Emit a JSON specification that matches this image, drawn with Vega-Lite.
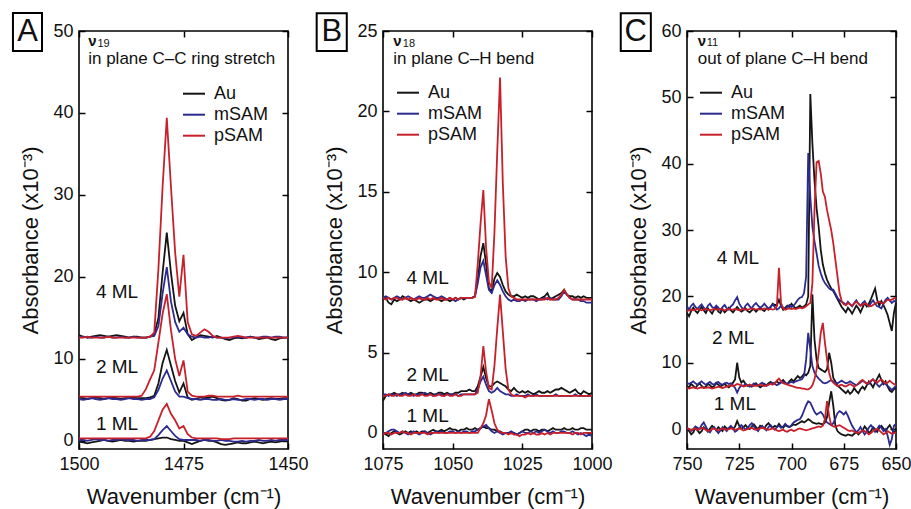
{
"$schema": "https://vega.github.io/schema/vega-lite/v6.json",
"padding": {"left": 11, "top": 11, "right": 4, "bottom": 4},
"bounds": "flush",
"spacing": 95,
"config": {
 "font": "Liberation Sans",
 "view": {"stroke": "black", "strokeWidth": 1.6},
 "axis": {"domain": false, "grid": false, "ticks": true, "tickSize": -6, "tickColor": "black", "tickWidth": 1.5, "format": "d", "labelFont": "Liberation Sans", "labelFontSize": 18, "labelColor": "#111", "labelPadding": 12, "labelFlush": false, "labelOverlap": false, "titleFont": "Liberation Sans", "titleFontSize": 22, "titleFontWeight": "normal", "titleColor": "#111"},
 "legend": {"labelFont": "Liberation Sans", "labelFontSize": 18, "labelColor": "#111", "symbolType": "stroke", "symbolStrokeWidth": 2, "symbolSize": 484, "labelOffset": 8, "rowPadding": -4.5, "padding": 0, "title": null}
},
"resolve": {"scale": {"color": "independent"}, "legend": {"color": "independent"}},
"datasets": {
"A": [
{"x":1500,"s":"Au","a":-0.1,"b":5.3,"c":12.9},{"x":1499,"s":"Au","a":-0.2,"b":5.2,"c":12.7},{"x":1498,"s":"Au","a":-0.3,"b":5.1,"c":12.6},{"x":1497,"s":"Au","a":-0.2,"b":5.2,"c":12.7},{"x":1496,"s":"Au","a":-0.1,"b":5.3,"c":12.8},{"x":1495,"s":"Au","a":0.0,"b":5.2,"c":12.9},{"x":1494,"s":"Au","a":0.1,"b":5.1,"c":12.8},{"x":1493,"s":"Au","a":0.0,"b":5.2,"c":12.7},{"x":1492,"s":"Au","a":-0.1,"b":5.3,"c":12.8},{"x":1491,"s":"Au","a":0.0,"b":5.2,"c":12.9},{"x":1490,"s":"Au","a":0.1,"b":5.1,"c":12.8},{"x":1489,"s":"Au","a":0.0,"b":5.2,"c":12.7},{"x":1488,"s":"Au","a":0.0,"b":5.2,"c":12.6},{"x":1487,"s":"Au","a":-0.1,"b":5.3,"c":12.7},{"x":1486,"s":"Au","a":0.0,"b":5.2,"c":12.7},{"x":1485,"s":"Au","a":0.0,"b":5.2,"c":12.6},{"x":1484,"s":"Au","a":0.0,"b":5.2,"c":12.6},{"x":1483,"s":"Au","a":0.1,"b":5.3,"c":12.7},{"x":1482,"s":"Au","a":0.2,"b":5.5,"c":13.0},{"x":1481,"s":"Au","a":0.3,"b":7.0,"c":15.0},{"x":1480,"s":"Au","a":0.4,"b":9.5,"c":20.5},{"x":1479,"s":"Au","a":0.4,"b":11.1,"c":25.4},{"x":1478,"s":"Au","a":0.2,"b":9.2,"c":20.5},{"x":1477,"s":"Au","a":0.1,"b":7.3,"c":16.5},{"x":1476,"s":"Au","a":0.0,"b":5.9,"c":14.6},{"x":1475,"s":"Au","a":0.0,"b":7.0,"c":15.6},{"x":1474,"s":"Au","a":-0.2,"b":5.3,"c":13.0},{"x":1473,"s":"Au","a":-0.4,"b":5.0,"c":12.3},{"x":1472,"s":"Au","a":-0.2,"b":5.1,"c":12.6},{"x":1471,"s":"Au","a":0.0,"b":5.3,"c":12.9},{"x":1470,"s":"Au","a":0.1,"b":5.2,"c":12.8},{"x":1469,"s":"Au","a":0.0,"b":5.3,"c":12.7},{"x":1468,"s":"Au","a":0.0,"b":5.4,"c":12.6},{"x":1467,"s":"Au","a":-0.2,"b":5.2,"c":12.8},{"x":1466,"s":"Au","a":-0.4,"b":5.0,"c":12.6},{"x":1465,"s":"Au","a":-0.5,"b":4.9,"c":12.4},{"x":1464,"s":"Au","a":-0.4,"b":5.0,"c":12.3},{"x":1463,"s":"Au","a":-0.3,"b":5.2,"c":12.5},{"x":1462,"s":"Au","a":-0.2,"b":5.1,"c":12.6},{"x":1461,"s":"Au","a":-0.3,"b":4.9,"c":12.5},{"x":1460,"s":"Au","a":-0.3,"b":4.9,"c":12.6},{"x":1459,"s":"Au","a":-0.2,"b":5.1,"c":12.7},{"x":1458,"s":"Au","a":-0.1,"b":5.2,"c":12.6},{"x":1457,"s":"Au","a":-0.2,"b":5.1,"c":12.4},{"x":1456,"s":"Au","a":-0.3,"b":5.0,"c":12.5},{"x":1455,"s":"Au","a":-0.2,"b":5.1,"c":12.6},{"x":1454,"s":"Au","a":-0.1,"b":5.2,"c":12.4},{"x":1453,"s":"Au","a":-0.2,"b":5.1,"c":12.3},{"x":1452,"s":"Au","a":-0.1,"b":5.1,"c":12.5},{"x":1451,"s":"Au","a":0.0,"b":5.2,"c":12.6},{"x":1450,"s":"Au","a":0.0,"b":5.2,"c":12.6},
{"x":1500,"s":"mSAM","a":0.1,"b":5.1,"c":12.6},{"x":1499,"s":"mSAM","a":0.1,"b":5.0,"c":12.7},{"x":1498,"s":"mSAM","a":0.0,"b":5.1,"c":12.6},{"x":1497,"s":"mSAM","a":0.1,"b":5.2,"c":12.6},{"x":1496,"s":"mSAM","a":0.2,"b":5.1,"c":12.7},{"x":1495,"s":"mSAM","a":0.1,"b":5.0,"c":12.6},{"x":1494,"s":"mSAM","a":0.1,"b":5.1,"c":12.6},{"x":1493,"s":"mSAM","a":0.0,"b":5.2,"c":12.7},{"x":1492,"s":"mSAM","a":0.1,"b":5.1,"c":12.6},{"x":1491,"s":"mSAM","a":0.1,"b":5.1,"c":12.6},{"x":1490,"s":"mSAM","a":0.2,"b":5.0,"c":12.7},{"x":1489,"s":"mSAM","a":0.1,"b":5.1,"c":12.6},{"x":1488,"s":"mSAM","a":0.1,"b":5.2,"c":12.6},{"x":1487,"s":"mSAM","a":0.1,"b":5.1,"c":12.7},{"x":1486,"s":"mSAM","a":0.0,"b":5.1,"c":12.6},{"x":1485,"s":"mSAM","a":0.1,"b":5.0,"c":12.6},{"x":1484,"s":"mSAM","a":0.1,"b":5.1,"c":12.6},{"x":1483,"s":"mSAM","a":0.1,"b":5.1,"c":12.7},{"x":1482,"s":"mSAM","a":0.2,"b":5.3,"c":12.8},{"x":1481,"s":"mSAM","a":0.7,"b":6.2,"c":14.0},{"x":1480,"s":"mSAM","a":1.3,"b":7.6,"c":18.0},{"x":1479,"s":"mSAM","a":1.8,"b":8.6,"c":21.2},{"x":1478,"s":"mSAM","a":1.2,"b":7.3,"c":17.0},{"x":1477,"s":"mSAM","a":0.6,"b":6.0,"c":14.5},{"x":1476,"s":"mSAM","a":0.2,"b":5.4,"c":13.3},{"x":1475,"s":"mSAM","a":0.1,"b":5.4,"c":13.8},{"x":1474,"s":"mSAM","a":0.1,"b":5.2,"c":13.0},{"x":1473,"s":"mSAM","a":0.1,"b":5.1,"c":12.7},{"x":1472,"s":"mSAM","a":0.1,"b":5.1,"c":12.6},{"x":1471,"s":"mSAM","a":0.0,"b":5.0,"c":12.7},{"x":1470,"s":"mSAM","a":0.1,"b":5.1,"c":12.6},{"x":1469,"s":"mSAM","a":0.1,"b":5.1,"c":12.6},{"x":1468,"s":"mSAM","a":0.0,"b":5.0,"c":12.7},{"x":1467,"s":"mSAM","a":0.0,"b":5.0,"c":12.6},{"x":1466,"s":"mSAM","a":0.1,"b":5.1,"c":12.6},{"x":1465,"s":"mSAM","a":0.0,"b":5.0,"c":12.5},{"x":1464,"s":"mSAM","a":0.0,"b":5.0,"c":12.6},{"x":1463,"s":"mSAM","a":-0.1,"b":5.1,"c":12.6},{"x":1462,"s":"mSAM","a":-0.1,"b":5.0,"c":12.7},{"x":1461,"s":"mSAM","a":0.0,"b":5.0,"c":12.6},{"x":1460,"s":"mSAM","a":-0.1,"b":5.1,"c":12.6},{"x":1459,"s":"mSAM","a":0.0,"b":5.1,"c":12.7},{"x":1458,"s":"mSAM","a":0.0,"b":5.0,"c":12.6},{"x":1457,"s":"mSAM","a":0.1,"b":5.1,"c":12.6},{"x":1456,"s":"mSAM","a":0.0,"b":5.1,"c":12.7},{"x":1455,"s":"mSAM","a":0.0,"b":5.0,"c":12.7},{"x":1454,"s":"mSAM","a":0.1,"b":5.1,"c":12.6},{"x":1453,"s":"mSAM","a":0.0,"b":5.1,"c":12.7},{"x":1452,"s":"mSAM","a":0.1,"b":5.0,"c":12.7},{"x":1451,"s":"mSAM","a":0.1,"b":5.1,"c":12.6},{"x":1450,"s":"mSAM","a":0.1,"b":5.1,"c":12.6},
{"x":1500,"s":"pSAM","a":0.3,"b":5.4,"c":12.6},{"x":1499,"s":"pSAM","a":0.3,"b":5.4,"c":12.6},{"x":1498,"s":"pSAM","a":0.3,"b":5.4,"c":12.7},{"x":1497,"s":"pSAM","a":0.3,"b":5.4,"c":12.6},{"x":1496,"s":"pSAM","a":0.3,"b":5.4,"c":12.6},{"x":1495,"s":"pSAM","a":0.3,"b":5.4,"c":12.6},{"x":1494,"s":"pSAM","a":0.3,"b":5.4,"c":12.6},{"x":1493,"s":"pSAM","a":0.3,"b":5.4,"c":12.7},{"x":1492,"s":"pSAM","a":0.3,"b":5.4,"c":12.6},{"x":1491,"s":"pSAM","a":0.3,"b":5.4,"c":12.6},{"x":1490,"s":"pSAM","a":0.3,"b":5.4,"c":12.6},{"x":1489,"s":"pSAM","a":0.3,"b":5.4,"c":12.6},{"x":1488,"s":"pSAM","a":0.3,"b":5.4,"c":12.6},{"x":1487,"s":"pSAM","a":0.3,"b":5.4,"c":12.6},{"x":1486,"s":"pSAM","a":0.3,"b":5.4,"c":12.6},{"x":1485,"s":"pSAM","a":0.3,"b":5.5,"c":12.6},{"x":1484,"s":"pSAM","a":0.3,"b":6.3,"c":12.6},{"x":1483,"s":"pSAM","a":0.5,"b":7.5,"c":12.7},{"x":1482,"s":"pSAM","a":1.2,"b":8.6,"c":13.2},{"x":1481,"s":"pSAM","a":2.5,"b":12.0,"c":21.0},{"x":1480,"s":"pSAM","a":3.8,"b":15.5,"c":31.0},{"x":1479,"s":"pSAM","a":4.5,"b":17.9,"c":39.4},{"x":1478,"s":"pSAM","a":3.3,"b":13.5,"c":31.0},{"x":1477,"s":"pSAM","a":2.5,"b":10.0,"c":23.0},{"x":1476,"s":"pSAM","a":1.5,"b":7.9,"c":17.6},{"x":1475,"s":"pSAM","a":1.8,"b":9.8,"c":22.7},{"x":1474,"s":"pSAM","a":0.8,"b":6.0,"c":14.5},{"x":1473,"s":"pSAM","a":0.4,"b":5.5,"c":13.0},{"x":1472,"s":"pSAM","a":0.3,"b":5.4,"c":12.8},{"x":1471,"s":"pSAM","a":0.3,"b":5.4,"c":13.2},{"x":1470,"s":"pSAM","a":0.3,"b":5.4,"c":13.6},{"x":1469,"s":"pSAM","a":0.3,"b":5.5,"c":13.3},{"x":1468,"s":"pSAM","a":0.3,"b":5.5,"c":12.8},{"x":1467,"s":"pSAM","a":0.3,"b":5.4,"c":12.6},{"x":1466,"s":"pSAM","a":0.2,"b":5.4,"c":12.6},{"x":1465,"s":"pSAM","a":0.2,"b":5.4,"c":12.6},{"x":1464,"s":"pSAM","a":0.2,"b":5.4,"c":12.6},{"x":1463,"s":"pSAM","a":0.3,"b":5.4,"c":12.7},{"x":1462,"s":"pSAM","a":0.3,"b":5.5,"c":12.8},{"x":1461,"s":"pSAM","a":0.3,"b":5.4,"c":12.7},{"x":1460,"s":"pSAM","a":0.3,"b":5.4,"c":12.6},{"x":1459,"s":"pSAM","a":0.3,"b":5.4,"c":12.6},{"x":1458,"s":"pSAM","a":0.3,"b":5.4,"c":12.6},{"x":1457,"s":"pSAM","a":0.3,"b":5.4,"c":12.6},{"x":1456,"s":"pSAM","a":0.3,"b":5.4,"c":12.6},{"x":1455,"s":"pSAM","a":0.3,"b":5.4,"c":12.6},{"x":1454,"s":"pSAM","a":0.3,"b":5.4,"c":12.6},{"x":1453,"s":"pSAM","a":0.3,"b":5.4,"c":12.6},{"x":1452,"s":"pSAM","a":0.3,"b":5.4,"c":12.6},{"x":1451,"s":"pSAM","a":0.3,"b":5.4,"c":12.6},{"x":1450,"s":"pSAM","a":0.3,"b":5.4,"c":12.6}
],
"B": [
{"x":1075,"s":"Au","a":0.0,"b":2.0,"c":8.3},{"x":1074,"s":"Au","a":-0.1,"b":2.3,"c":8.4},{"x":1073,"s":"Au","a":-0.2,"b":2.4,"c":8.1},{"x":1072,"s":"Au","a":0.0,"b":2.4,"c":8.0},{"x":1071,"s":"Au","a":0.1,"b":2.5,"c":8.3},{"x":1070,"s":"Au","a":0.0,"b":2.4,"c":8.2},{"x":1069,"s":"Au","a":-0.1,"b":2.4,"c":8.3},{"x":1068,"s":"Au","a":0.0,"b":2.5,"c":8.5},{"x":1067,"s":"Au","a":0.1,"b":2.4,"c":8.4},{"x":1066,"s":"Au","a":0.0,"b":2.4,"c":8.3},{"x":1065,"s":"Au","a":0.1,"b":2.5,"c":8.2},{"x":1064,"s":"Au","a":0.0,"b":2.4,"c":8.3},{"x":1063,"s":"Au","a":0.1,"b":2.4,"c":8.2},{"x":1062,"s":"Au","a":0.0,"b":2.5,"c":8.1},{"x":1061,"s":"Au","a":0.1,"b":2.5,"c":8.2},{"x":1060,"s":"Au","a":0.1,"b":2.4,"c":8.3},{"x":1059,"s":"Au","a":0.0,"b":2.4,"c":8.3},{"x":1058,"s":"Au","a":0.1,"b":2.5,"c":8.2},{"x":1057,"s":"Au","a":0.2,"b":2.4,"c":8.3},{"x":1056,"s":"Au","a":0.1,"b":2.4,"c":8.4},{"x":1055,"s":"Au","a":0.1,"b":2.5,"c":8.3},{"x":1054,"s":"Au","a":0.2,"b":2.5,"c":8.2},{"x":1053,"s":"Au","a":0.1,"b":2.4,"c":8.3},{"x":1052,"s":"Au","a":0.2,"b":2.5,"c":8.3},{"x":1051,"s":"Au","a":0.3,"b":2.4,"c":8.2},{"x":1050,"s":"Au","a":0.2,"b":2.4,"c":8.3},{"x":1049,"s":"Au","a":0.2,"b":2.5,"c":8.4},{"x":1048,"s":"Au","a":0.1,"b":2.5,"c":8.3},{"x":1047,"s":"Au","a":0.2,"b":2.6,"c":8.4},{"x":1046,"s":"Au","a":0.2,"b":2.6,"c":8.3},{"x":1045,"s":"Au","a":0.3,"b":2.6,"c":8.4},{"x":1044,"s":"Au","a":0.2,"b":2.7,"c":8.4},{"x":1043,"s":"Au","a":0.2,"b":2.6,"c":8.4},{"x":1042,"s":"Au","a":0.3,"b":2.6,"c":8.5},{"x":1041,"s":"Au","a":0.2,"b":2.9,"c":9.5},{"x":1040,"s":"Au","a":0.3,"b":3.5,"c":11.0},{"x":1039,"s":"Au","a":0.4,"b":4.1,"c":11.8},{"x":1038,"s":"Au","a":0.3,"b":3.4,"c":10.5},{"x":1037,"s":"Au","a":0.3,"b":2.9,"c":9.0},{"x":1036,"s":"Au","a":0.2,"b":2.9,"c":8.8},{"x":1035,"s":"Au","a":0.2,"b":3.1,"c":9.6},{"x":1034,"s":"Au","a":0.1,"b":3.2,"c":9.95},{"x":1033,"s":"Au","a":0.1,"b":3.1,"c":9.7},{"x":1032,"s":"Au","a":0.0,"b":3.0,"c":9.2},{"x":1031,"s":"Au","a":0.0,"b":2.9,"c":8.8},{"x":1030,"s":"Au","a":0.0,"b":2.7,"c":8.6},{"x":1029,"s":"Au","a":0.0,"b":2.6,"c":8.5},{"x":1028,"s":"Au","a":0.0,"b":2.8,"c":8.5},{"x":1027,"s":"Au","a":-0.1,"b":2.6,"c":8.6},{"x":1026,"s":"Au","a":0.0,"b":2.5,"c":8.5},{"x":1025,"s":"Au","a":0.1,"b":2.6,"c":8.4},{"x":1024,"s":"Au","a":0.2,"b":2.5,"c":8.5},{"x":1023,"s":"Au","a":0.2,"b":2.6,"c":8.4},{"x":1022,"s":"Au","a":0.1,"b":2.5,"c":8.5},{"x":1021,"s":"Au","a":0.2,"b":2.4,"c":8.5},{"x":1020,"s":"Au","a":0.2,"b":2.5,"c":8.4},{"x":1019,"s":"Au","a":0.1,"b":2.6,"c":8.3},{"x":1018,"s":"Au","a":0.2,"b":2.5,"c":8.4},{"x":1017,"s":"Au","a":0.2,"b":2.5,"c":8.5},{"x":1016,"s":"Au","a":0.1,"b":2.6,"c":8.7},{"x":1015,"s":"Au","a":0.2,"b":2.5,"c":8.3},{"x":1014,"s":"Au","a":0.3,"b":2.6,"c":8.4},{"x":1013,"s":"Au","a":0.2,"b":2.7,"c":8.5},{"x":1012,"s":"Au","a":0.2,"b":2.7,"c":8.6},{"x":1011,"s":"Au","a":0.2,"b":2.8,"c":8.7},{"x":1010,"s":"Au","a":0.3,"b":2.7,"c":8.9},{"x":1009,"s":"Au","a":0.2,"b":2.6,"c":8.6},{"x":1008,"s":"Au","a":0.2,"b":2.5,"c":8.5},{"x":1007,"s":"Au","a":0.3,"b":2.6,"c":8.5},{"x":1006,"s":"Au","a":0.2,"b":2.7,"c":8.4},{"x":1005,"s":"Au","a":0.2,"b":2.5,"c":8.5},{"x":1004,"s":"Au","a":0.3,"b":2.4,"c":8.4},{"x":1003,"s":"Au","a":0.3,"b":2.6,"c":8.5},{"x":1002,"s":"Au","a":0.2,"b":2.5,"c":8.4},{"x":1001,"s":"Au","a":0.2,"b":2.4,"c":8.4},{"x":1000,"s":"Au","a":0.2,"b":2.5,"c":8.4},
{"x":1075,"s":"mSAM","a":0.0,"b":2.4,"c":8.4},{"x":1074,"s":"mSAM","a":0.0,"b":2.4,"c":8.5},{"x":1073,"s":"mSAM","a":0.1,"b":2.3,"c":8.4},{"x":1072,"s":"mSAM","a":0.2,"b":2.4,"c":8.3},{"x":1071,"s":"mSAM","a":0.2,"b":2.4,"c":8.4},{"x":1070,"s":"mSAM","a":0.1,"b":2.3,"c":8.5},{"x":1069,"s":"mSAM","a":0.0,"b":2.4,"c":8.4},{"x":1068,"s":"mSAM","a":0.1,"b":2.4,"c":8.3},{"x":1067,"s":"mSAM","a":0.0,"b":2.5,"c":8.4},{"x":1066,"s":"mSAM","a":-0.1,"b":2.4,"c":8.5},{"x":1065,"s":"mSAM","a":0.0,"b":2.4,"c":8.4},{"x":1064,"s":"mSAM","a":0.1,"b":2.3,"c":8.3},{"x":1063,"s":"mSAM","a":0.0,"b":2.4,"c":8.4},{"x":1062,"s":"mSAM","a":-0.1,"b":2.4,"c":8.5},{"x":1061,"s":"mSAM","a":0.0,"b":2.4,"c":8.4},{"x":1060,"s":"mSAM","a":0.1,"b":2.5,"c":8.4},{"x":1059,"s":"mSAM","a":0.0,"b":2.4,"c":8.5},{"x":1058,"s":"mSAM","a":-0.1,"b":2.4,"c":8.6},{"x":1057,"s":"mSAM","a":0.0,"b":2.3,"c":8.5},{"x":1056,"s":"mSAM","a":0.1,"b":2.4,"c":8.4},{"x":1055,"s":"mSAM","a":0.0,"b":2.4,"c":8.4},{"x":1054,"s":"mSAM","a":0.1,"b":2.4,"c":8.5},{"x":1053,"s":"mSAM","a":0.0,"b":2.3,"c":8.4},{"x":1052,"s":"mSAM","a":0.0,"b":2.4,"c":8.3},{"x":1051,"s":"mSAM","a":0.1,"b":2.4,"c":8.4},{"x":1050,"s":"mSAM","a":0.1,"b":2.4,"c":8.3},{"x":1049,"s":"mSAM","a":0.0,"b":2.4,"c":8.2},{"x":1048,"s":"mSAM","a":0.1,"b":2.3,"c":8.3},{"x":1047,"s":"mSAM","a":0.0,"b":2.4,"c":8.4},{"x":1046,"s":"mSAM","a":0.1,"b":2.4,"c":8.4},{"x":1045,"s":"mSAM","a":0.1,"b":2.4,"c":8.4},{"x":1044,"s":"mSAM","a":0.0,"b":2.4,"c":8.4},{"x":1043,"s":"mSAM","a":0.1,"b":2.4,"c":8.4},{"x":1042,"s":"mSAM","a":0.1,"b":2.4,"c":8.5},{"x":1041,"s":"mSAM","a":0.2,"b":2.7,"c":9.3},{"x":1040,"s":"mSAM","a":0.3,"b":3.2,"c":10.3},{"x":1039,"s":"mSAM","a":0.4,"b":3.5,"c":10.7},{"x":1038,"s":"mSAM","a":0.5,"b":3.0,"c":9.8},{"x":1037,"s":"mSAM","a":0.3,"b":2.6,"c":8.9},{"x":1036,"s":"mSAM","a":0.1,"b":2.5,"c":8.7},{"x":1035,"s":"mSAM","a":0.0,"b":2.6,"c":9.2},{"x":1034,"s":"mSAM","a":0.1,"b":2.8,"c":9.5},{"x":1033,"s":"mSAM","a":0.0,"b":2.6,"c":9.2},{"x":1032,"s":"mSAM","a":-0.1,"b":2.5,"c":8.8},{"x":1031,"s":"mSAM","a":0.0,"b":2.4,"c":8.5},{"x":1030,"s":"mSAM","a":0.0,"b":2.4,"c":8.3},{"x":1029,"s":"mSAM","a":0.1,"b":2.3,"c":8.2},{"x":1028,"s":"mSAM","a":0.0,"b":2.3,"c":8.3},{"x":1027,"s":"mSAM","a":-0.1,"b":2.4,"c":8.2},{"x":1026,"s":"mSAM","a":0.0,"b":2.3,"c":8.2},{"x":1025,"s":"mSAM","a":0.1,"b":2.3,"c":8.3},{"x":1024,"s":"mSAM","a":0.0,"b":2.3,"c":8.2},{"x":1023,"s":"mSAM","a":0.0,"b":2.4,"c":8.3},{"x":1022,"s":"mSAM","a":0.1,"b":2.3,"c":8.3},{"x":1021,"s":"mSAM","a":0.0,"b":2.3,"c":8.3},{"x":1020,"s":"mSAM","a":0.1,"b":2.4,"c":8.2},{"x":1019,"s":"mSAM","a":0.0,"b":2.3,"c":8.3},{"x":1018,"s":"mSAM","a":0.1,"b":2.3,"c":8.3},{"x":1017,"s":"mSAM","a":0.2,"b":2.3,"c":8.4},{"x":1016,"s":"mSAM","a":0.1,"b":2.3,"c":8.3},{"x":1015,"s":"mSAM","a":0.0,"b":2.3,"c":8.4},{"x":1014,"s":"mSAM","a":0.1,"b":2.3,"c":8.3},{"x":1013,"s":"mSAM","a":0.0,"b":2.4,"c":8.3},{"x":1012,"s":"mSAM","a":0.0,"b":2.3,"c":8.3},{"x":1011,"s":"mSAM","a":0.1,"b":2.3,"c":8.5},{"x":1010,"s":"mSAM","a":0.1,"b":2.3,"c":8.8},{"x":1009,"s":"mSAM","a":0.0,"b":2.3,"c":8.6},{"x":1008,"s":"mSAM","a":0.0,"b":2.3,"c":8.4},{"x":1007,"s":"mSAM","a":0.1,"b":2.3,"c":8.3},{"x":1006,"s":"mSAM","a":0.0,"b":2.4,"c":8.3},{"x":1005,"s":"mSAM","a":-0.1,"b":2.3,"c":8.3},{"x":1004,"s":"mSAM","a":0.0,"b":2.3,"c":8.2},{"x":1003,"s":"mSAM","a":-0.1,"b":2.3,"c":8.2},{"x":1002,"s":"mSAM","a":-0.2,"b":2.3,"c":8.1},{"x":1001,"s":"mSAM","a":-0.1,"b":2.3,"c":8.1},{"x":1000,"s":"mSAM","a":-0.2,"b":2.3,"c":8.1},
{"x":1075,"s":"pSAM","a":-0.1,"b":2.3,"c":8.4},{"x":1074,"s":"pSAM","a":0.0,"b":2.3,"c":8.3},{"x":1073,"s":"pSAM","a":0.0,"b":2.4,"c":8.4},{"x":1072,"s":"pSAM","a":-0.1,"b":2.3,"c":8.3},{"x":1071,"s":"pSAM","a":0.0,"b":2.3,"c":8.4},{"x":1070,"s":"pSAM","a":0.0,"b":2.4,"c":8.4},{"x":1069,"s":"pSAM","a":0.0,"b":2.3,"c":8.3},{"x":1068,"s":"pSAM","a":0.1,"b":2.3,"c":8.3},{"x":1067,"s":"pSAM","a":0.0,"b":2.4,"c":8.4},{"x":1066,"s":"pSAM","a":0.0,"b":2.3,"c":8.3},{"x":1065,"s":"pSAM","a":-0.1,"b":2.3,"c":8.4},{"x":1064,"s":"pSAM","a":0.0,"b":2.4,"c":8.3},{"x":1063,"s":"pSAM","a":0.0,"b":2.3,"c":8.3},{"x":1062,"s":"pSAM","a":0.0,"b":2.3,"c":8.4},{"x":1061,"s":"pSAM","a":0.0,"b":2.4,"c":8.3},{"x":1060,"s":"pSAM","a":0.0,"b":2.3,"c":8.3},{"x":1059,"s":"pSAM","a":-0.1,"b":2.3,"c":8.4},{"x":1058,"s":"pSAM","a":0.0,"b":2.4,"c":8.3},{"x":1057,"s":"pSAM","a":0.0,"b":2.3,"c":8.4},{"x":1056,"s":"pSAM","a":0.0,"b":2.3,"c":8.3},{"x":1055,"s":"pSAM","a":0.0,"b":2.4,"c":8.3},{"x":1054,"s":"pSAM","a":0.0,"b":2.3,"c":8.4},{"x":1053,"s":"pSAM","a":0.0,"b":2.3,"c":8.3},{"x":1052,"s":"pSAM","a":0.0,"b":2.4,"c":8.3},{"x":1051,"s":"pSAM","a":0.0,"b":2.3,"c":8.4},{"x":1050,"s":"pSAM","a":0.0,"b":2.3,"c":8.3},{"x":1049,"s":"pSAM","a":0.0,"b":2.4,"c":8.4},{"x":1048,"s":"pSAM","a":0.0,"b":2.3,"c":8.3},{"x":1047,"s":"pSAM","a":0.0,"b":2.3,"c":8.4},{"x":1046,"s":"pSAM","a":0.0,"b":2.4,"c":8.4},{"x":1045,"s":"pSAM","a":0.0,"b":2.4,"c":8.4},{"x":1044,"s":"pSAM","a":0.0,"b":2.4,"c":8.4},{"x":1043,"s":"pSAM","a":0.0,"b":2.4,"c":8.4},{"x":1042,"s":"pSAM","a":0.0,"b":2.4,"c":8.45},{"x":1041,"s":"pSAM","a":0.0,"b":2.5,"c":10.5},{"x":1040,"s":"pSAM","a":0.3,"b":3.5,"c":13.0},{"x":1039,"s":"pSAM","a":0.6,"b":5.4,"c":15.1},{"x":1038,"s":"pSAM","a":1.1,"b":3.8,"c":11.5},{"x":1037,"s":"pSAM","a":2.1,"b":2.8,"c":9.4},{"x":1036,"s":"pSAM","a":1.4,"b":2.7,"c":9.0},{"x":1035,"s":"pSAM","a":0.6,"b":4.2,"c":12.5},{"x":1034,"s":"pSAM","a":0.2,"b":6.5,"c":17.5},{"x":1033,"s":"pSAM","a":0.05,"b":8.6,"c":22.1},{"x":1032,"s":"pSAM","a":0.0,"b":6.3,"c":15.5},{"x":1031,"s":"pSAM","a":0.0,"b":4.0,"c":11.0},{"x":1030,"s":"pSAM","a":-0.1,"b":2.7,"c":9.0},{"x":1029,"s":"pSAM","a":0.0,"b":2.4,"c":8.5},{"x":1028,"s":"pSAM","a":-0.1,"b":2.3,"c":8.4},{"x":1027,"s":"pSAM","a":-0.1,"b":2.3,"c":8.3},{"x":1026,"s":"pSAM","a":-0.2,"b":2.3,"c":8.3},{"x":1025,"s":"pSAM","a":-0.1,"b":2.3,"c":8.3},{"x":1024,"s":"pSAM","a":-0.1,"b":2.2,"c":8.3},{"x":1023,"s":"pSAM","a":0.0,"b":2.3,"c":8.3},{"x":1022,"s":"pSAM","a":-0.1,"b":2.3,"c":8.3},{"x":1021,"s":"pSAM","a":0.0,"b":2.3,"c":8.3},{"x":1020,"s":"pSAM","a":-0.1,"b":2.3,"c":8.3},{"x":1019,"s":"pSAM","a":-0.1,"b":2.3,"c":8.3},{"x":1018,"s":"pSAM","a":0.0,"b":2.3,"c":8.3},{"x":1017,"s":"pSAM","a":-0.1,"b":2.3,"c":8.3},{"x":1016,"s":"pSAM","a":0.0,"b":2.3,"c":8.4},{"x":1015,"s":"pSAM","a":-0.1,"b":2.3,"c":8.3},{"x":1014,"s":"pSAM","a":0.0,"b":2.3,"c":8.3},{"x":1013,"s":"pSAM","a":0.0,"b":2.3,"c":8.3},{"x":1012,"s":"pSAM","a":0.0,"b":2.3,"c":8.4},{"x":1011,"s":"pSAM","a":0.0,"b":2.3,"c":8.6},{"x":1010,"s":"pSAM","a":0.0,"b":2.3,"c":8.9},{"x":1009,"s":"pSAM","a":0.0,"b":2.3,"c":8.6},{"x":1008,"s":"pSAM","a":0.0,"b":2.3,"c":8.4},{"x":1007,"s":"pSAM","a":-0.1,"b":2.3,"c":8.3},{"x":1006,"s":"pSAM","a":0.0,"b":2.3,"c":8.3},{"x":1005,"s":"pSAM","a":0.0,"b":2.3,"c":8.3},{"x":1004,"s":"pSAM","a":-0.1,"b":2.3,"c":8.3},{"x":1003,"s":"pSAM","a":0.0,"b":2.3,"c":8.3},{"x":1002,"s":"pSAM","a":0.0,"b":2.3,"c":8.3},{"x":1001,"s":"pSAM","a":0.0,"b":2.3,"c":8.3},{"x":1000,"s":"pSAM","a":0.0,"b":2.3,"c":8.3}
],
"C": [
{"x":750,"s":"Au","a":0.0,"b":6.5,"c":17.5},{"x":749,"s":"Au","a":-0.3,"b":6.3,"c":17.0},{"x":748,"s":"Au","a":-0.8,"b":6.8,"c":17.8},{"x":747,"s":"Au","a":-0.5,"b":6.5,"c":18.3},{"x":746,"s":"Au","a":0.2,"b":6.2,"c":17.8},{"x":745,"s":"Au","a":-0.2,"b":6.6,"c":17.5},{"x":744,"s":"Au","a":-0.6,"b":6.9,"c":18.0},{"x":743,"s":"Au","a":-0.3,"b":6.5,"c":18.4},{"x":742,"s":"Au","a":0.3,"b":6.2,"c":17.9},{"x":741,"s":"Au","a":0.0,"b":6.4,"c":17.5},{"x":740,"s":"Au","a":-0.4,"b":6.8,"c":18.2},{"x":739,"s":"Au","a":0.1,"b":6.6,"c":17.8},{"x":738,"s":"Au","a":0.5,"b":6.3,"c":17.4},{"x":737,"s":"Au","a":0.2,"b":6.5,"c":18.0},{"x":736,"s":"Au","a":-0.2,"b":6.9,"c":18.3},{"x":735,"s":"Au","a":0.3,"b":6.7,"c":17.7},{"x":734,"s":"Au","a":0.0,"b":6.4,"c":17.5},{"x":733,"s":"Au","a":-0.3,"b":6.6,"c":18.1},{"x":732,"s":"Au","a":0.4,"b":6.8,"c":17.6},{"x":731,"s":"Au","a":0.1,"b":6.5,"c":17.9},{"x":730,"s":"Au","a":0.0,"b":6.3,"c":18.3},{"x":729,"s":"Au","a":0.3,"b":6.6,"c":17.9},{"x":728,"s":"Au","a":0.0,"b":7.0,"c":17.6},{"x":727,"s":"Au","a":0.4,"b":7.5,"c":18.0},{"x":726,"s":"Au","a":1.2,"b":10.0,"c":18.4},{"x":725,"s":"Au","a":0.5,"b":7.8,"c":18.0},{"x":724,"s":"Au","a":0.0,"b":7.0,"c":17.7},{"x":723,"s":"Au","a":0.3,"b":7.3,"c":17.9},{"x":722,"s":"Au","a":0.6,"b":6.8,"c":18.2},{"x":721,"s":"Au","a":0.2,"b":6.5,"c":17.8},{"x":720,"s":"Au","a":0.0,"b":6.7,"c":17.6},{"x":719,"s":"Au","a":0.4,"b":6.4,"c":17.9},{"x":718,"s":"Au","a":0.7,"b":6.6,"c":18.1},{"x":717,"s":"Au","a":0.3,"b":6.9,"c":17.7},{"x":716,"s":"Au","a":0.0,"b":6.6,"c":18.0},{"x":715,"s":"Au","a":0.5,"b":6.3,"c":18.3},{"x":714,"s":"Au","a":0.3,"b":6.5,"c":18.0},{"x":713,"s":"Au","a":0.1,"b":6.8,"c":17.8},{"x":712,"s":"Au","a":0.6,"b":6.6,"c":18.2},{"x":711,"s":"Au","a":0.9,"b":6.9,"c":18.0},{"x":710,"s":"Au","a":0.4,"b":7.1,"c":18.4},{"x":709,"s":"Au","a":0.2,"b":6.8,"c":18.9},{"x":708,"s":"Au","a":0.5,"b":7.0,"c":18.7},{"x":707,"s":"Au","a":0.3,"b":7.2,"c":18.7},{"x":706,"s":"Au","a":0.8,"b":6.9,"c":19.5},{"x":705,"s":"Au","a":0.4,"b":7.1,"c":18.6},{"x":704,"s":"Au","a":0.2,"b":7.4,"c":18.0},{"x":703,"s":"Au","a":0.6,"b":7.0,"c":18.3},{"x":702,"s":"Au","a":0.4,"b":6.8,"c":18.6},{"x":701,"s":"Au","a":0.3,"b":7.2,"c":18.4},{"x":700,"s":"Au","a":0.5,"b":7.5,"c":18.9},{"x":699,"s":"Au","a":0.7,"b":7.2,"c":18.5},{"x":698,"s":"Au","a":0.6,"b":7.6,"c":18.2},{"x":697,"s":"Au","a":0.8,"b":8.0,"c":18.4},{"x":696,"s":"Au","a":1.0,"b":7.7,"c":18.6},{"x":695,"s":"Au","a":1.2,"b":7.9,"c":18.3},{"x":694,"s":"Au","a":1.0,"b":8.3,"c":18.5},{"x":693,"s":"Au","a":1.2,"b":8.1,"c":18.8},{"x":692,"s":"Au","a":1.5,"b":8.5,"c":20.0},{"x":691,"s":"Au","a":1.3,"b":9.5,"c":50.5},{"x":690,"s":"Au","a":1.0,"b":20.3,"c":43.0},{"x":689,"s":"Au","a":0.9,"b":13.5,"c":37.5},{"x":688,"s":"Au","a":0.8,"b":10.5,"c":33.3},{"x":687,"s":"Au","a":0.9,"b":9.2,"c":30.5},{"x":686,"s":"Au","a":0.8,"b":9.0,"c":27.0},{"x":685,"s":"Au","a":0.7,"b":8.8,"c":24.8},{"x":684,"s":"Au","a":1.0,"b":8.6,"c":23.5},{"x":683,"s":"Au","a":1.8,"b":9.0,"c":22.5},{"x":682,"s":"Au","a":4.0,"b":11.5,"c":21.8},{"x":681,"s":"Au","a":5.7,"b":10.0,"c":21.2},{"x":680,"s":"Au","a":3.5,"b":7.7,"c":20.8},{"x":679,"s":"Au","a":0.5,"b":7.2,"c":20.2},{"x":678,"s":"Au","a":-0.3,"b":6.5,"c":19.6},{"x":677,"s":"Au","a":-0.6,"b":6.3,"c":19.0},{"x":676,"s":"Au","a":-0.8,"b":6.0,"c":18.4},{"x":675,"s":"Au","a":-0.9,"b":5.7,"c":18.0},{"x":674,"s":"Au","a":-1.0,"b":5.4,"c":17.6},{"x":673,"s":"Au","a":-0.8,"b":5.8,"c":18.3},{"x":672,"s":"Au","a":-0.9,"b":5.3,"c":17.9},{"x":671,"s":"Au","a":-1.0,"b":5.6,"c":17.4},{"x":670,"s":"Au","a":-0.7,"b":6.2,"c":18.0},{"x":669,"s":"Au","a":-0.4,"b":5.7,"c":18.6},{"x":668,"s":"Au","a":-0.8,"b":5.4,"c":18.2},{"x":667,"s":"Au","a":-0.5,"b":6.0,"c":17.6},{"x":666,"s":"Au","a":-0.2,"b":6.4,"c":18.3},{"x":665,"s":"Au","a":0.4,"b":6.0,"c":19.0},{"x":664,"s":"Au","a":0.0,"b":6.6,"c":18.5},{"x":663,"s":"Au","a":-0.6,"b":7.2,"c":18.9},{"x":662,"s":"Au","a":-0.3,"b":6.8,"c":19.6},{"x":661,"s":"Au","a":0.3,"b":6.3,"c":20.4},{"x":660,"s":"Au","a":0.0,"b":7.0,"c":21.2},{"x":659,"s":"Au","a":-0.4,"b":7.6,"c":19.5},{"x":658,"s":"Au","a":0.2,"b":8.2,"c":18.6},{"x":657,"s":"Au","a":0.5,"b":7.4,"c":19.3},{"x":656,"s":"Au","a":0.1,"b":6.8,"c":18.7},{"x":655,"s":"Au","a":-0.3,"b":7.2,"c":18.0},{"x":654,"s":"Au","a":0.2,"b":6.4,"c":17.2},{"x":653,"s":"Au","a":0.6,"b":5.8,"c":16.0},{"x":652,"s":"Au","a":0.0,"b":5.6,"c":14.8},{"x":651,"s":"Au","a":-0.5,"b":6.0,"c":17.5},{"x":650,"s":"Au","a":-0.2,"b":6.2,"c":19.0},
{"x":750,"s":"mSAM","a":0.2,"b":7.0,"c":18.5},{"x":749,"s":"mSAM","a":0.0,"b":6.8,"c":18.0},{"x":748,"s":"mSAM","a":-0.3,"b":7.0,"c":18.6},{"x":747,"s":"mSAM","a":0.0,"b":7.2,"c":18.9},{"x":746,"s":"mSAM","a":0.4,"b":6.9,"c":18.4},{"x":745,"s":"mSAM","a":0.2,"b":6.7,"c":18.1},{"x":744,"s":"mSAM","a":0.0,"b":7.0,"c":18.5},{"x":743,"s":"mSAM","a":0.6,"b":7.2,"c":18.8},{"x":742,"s":"mSAM","a":1.0,"b":6.9,"c":18.3},{"x":741,"s":"mSAM","a":0.4,"b":6.7,"c":18.0},{"x":740,"s":"mSAM","a":-0.2,"b":6.9,"c":18.6},{"x":739,"s":"mSAM","a":-0.5,"b":7.1,"c":18.9},{"x":738,"s":"mSAM","a":0.0,"b":6.8,"c":18.4},{"x":737,"s":"mSAM","a":0.3,"b":6.7,"c":18.2},{"x":736,"s":"mSAM","a":-0.2,"b":7.0,"c":18.6},{"x":735,"s":"mSAM","a":-0.6,"b":7.1,"c":18.3},{"x":734,"s":"mSAM","a":-0.2,"b":6.8,"c":17.9},{"x":733,"s":"mSAM","a":0.3,"b":6.7,"c":18.4},{"x":732,"s":"mSAM","a":0.0,"b":6.9,"c":18.7},{"x":731,"s":"mSAM","a":-0.3,"b":7.0,"c":18.2},{"x":730,"s":"mSAM","a":0.2,"b":6.8,"c":18.0},{"x":729,"s":"mSAM","a":0.5,"b":6.9,"c":18.5},{"x":728,"s":"mSAM","a":0.1,"b":6.6,"c":18.8},{"x":727,"s":"mSAM","a":-0.4,"b":6.2,"c":19.4},{"x":726,"s":"mSAM","a":-0.2,"b":5.5,"c":19.9},{"x":725,"s":"mSAM","a":0.2,"b":6.2,"c":18.9},{"x":724,"s":"mSAM","a":0.6,"b":6.6,"c":18.4},{"x":723,"s":"mSAM","a":0.3,"b":6.5,"c":18.0},{"x":722,"s":"mSAM","a":-0.1,"b":6.8,"c":18.6},{"x":721,"s":"mSAM","a":0.2,"b":6.6,"c":18.9},{"x":720,"s":"mSAM","a":0.6,"b":6.4,"c":18.5},{"x":719,"s":"mSAM","a":0.9,"b":6.6,"c":18.2},{"x":718,"s":"mSAM","a":0.4,"b":6.9,"c":18.7},{"x":717,"s":"mSAM","a":0.0,"b":6.7,"c":19.0},{"x":716,"s":"mSAM","a":-0.3,"b":6.5,"c":18.6},{"x":715,"s":"mSAM","a":0.2,"b":6.8,"c":18.3},{"x":714,"s":"mSAM","a":0.5,"b":7.0,"c":18.5},{"x":713,"s":"mSAM","a":0.1,"b":6.7,"c":18.9},{"x":712,"s":"mSAM","a":-0.2,"b":6.5,"c":18.5},{"x":711,"s":"mSAM","a":0.3,"b":6.7,"c":18.2},{"x":710,"s":"mSAM","a":0.6,"b":6.9,"c":18.4},{"x":709,"s":"mSAM","a":0.2,"b":7.0,"c":18.8},{"x":708,"s":"mSAM","a":-0.1,"b":6.8,"c":18.4},{"x":707,"s":"mSAM","a":0.3,"b":6.6,"c":18.0},{"x":706,"s":"mSAM","a":0.5,"b":6.8,"c":18.2},{"x":705,"s":"mSAM","a":0.2,"b":7.0,"c":18.6},{"x":704,"s":"mSAM","a":0.4,"b":7.1,"c":18.3},{"x":703,"s":"mSAM","a":0.8,"b":6.9,"c":18.1},{"x":702,"s":"mSAM","a":0.5,"b":6.8,"c":18.4},{"x":701,"s":"mSAM","a":0.3,"b":7.0,"c":18.7},{"x":700,"s":"mSAM","a":0.6,"b":7.1,"c":18.4},{"x":699,"s":"mSAM","a":1.0,"b":7.0,"c":18.6},{"x":698,"s":"mSAM","a":1.2,"b":7.2,"c":19.0},{"x":697,"s":"mSAM","a":1.4,"b":7.3,"c":19.5},{"x":696,"s":"mSAM","a":1.5,"b":7.4,"c":19.8},{"x":695,"s":"mSAM","a":2.0,"b":7.5,"c":19.9},{"x":694,"s":"mSAM","a":2.8,"b":8.0,"c":20.5},{"x":693,"s":"mSAM","a":3.6,"b":10.5,"c":23.0},{"x":692,"s":"mSAM","a":4.2,"b":14.5,"c":41.6},{"x":691,"s":"mSAM","a":4.0,"b":12.0,"c":35.0},{"x":690,"s":"mSAM","a":3.3,"b":9.5,"c":30.5},{"x":689,"s":"mSAM","a":2.6,"b":8.5,"c":28.3},{"x":688,"s":"mSAM","a":2.2,"b":8.0,"c":26.5},{"x":687,"s":"mSAM","a":2.4,"b":7.6,"c":24.6},{"x":686,"s":"mSAM","a":2.6,"b":7.3,"c":23.5},{"x":685,"s":"mSAM","a":2.2,"b":7.0,"c":22.6},{"x":684,"s":"mSAM","a":1.5,"b":6.9,"c":22.0},{"x":683,"s":"mSAM","a":1.0,"b":7.0,"c":21.6},{"x":682,"s":"mSAM","a":0.8,"b":7.2,"c":21.2},{"x":681,"s":"mSAM","a":0.6,"b":7.4,"c":21.0},{"x":680,"s":"mSAM","a":0.9,"b":7.2,"c":21.0},{"x":679,"s":"mSAM","a":1.6,"b":7.0,"c":20.4},{"x":678,"s":"mSAM","a":2.4,"b":6.9,"c":19.8},{"x":677,"s":"mSAM","a":2.7,"b":7.1,"c":19.4},{"x":676,"s":"mSAM","a":2.5,"b":7.3,"c":19.2},{"x":675,"s":"mSAM","a":2.2,"b":7.1,"c":19.0},{"x":674,"s":"mSAM","a":2.6,"b":6.9,"c":18.7},{"x":673,"s":"mSAM","a":2.0,"b":7.0,"c":19.2},{"x":672,"s":"mSAM","a":1.2,"b":7.2,"c":18.8},{"x":671,"s":"mSAM","a":0.5,"b":7.0,"c":18.5},{"x":670,"s":"mSAM","a":0.0,"b":6.8,"c":19.0},{"x":669,"s":"mSAM","a":-0.5,"b":6.6,"c":19.4},{"x":668,"s":"mSAM","a":-0.2,"b":6.8,"c":18.9},{"x":667,"s":"mSAM","a":0.3,"b":7.0,"c":18.6},{"x":666,"s":"mSAM","a":-0.3,"b":7.3,"c":19.0},{"x":665,"s":"mSAM","a":-0.8,"b":7.1,"c":19.3},{"x":664,"s":"mSAM","a":-0.4,"b":6.9,"c":18.8},{"x":663,"s":"mSAM","a":0.2,"b":6.8,"c":18.5},{"x":662,"s":"mSAM","a":0.6,"b":7.2,"c":19.0},{"x":661,"s":"mSAM","a":0.2,"b":7.5,"c":19.4},{"x":660,"s":"mSAM","a":-0.4,"b":7.1,"c":18.9},{"x":659,"s":"mSAM","a":0.0,"b":6.7,"c":18.5},{"x":658,"s":"mSAM","a":0.5,"b":6.4,"c":18.4},{"x":657,"s":"mSAM","a":0.2,"b":6.7,"c":18.2},{"x":656,"s":"mSAM","a":-0.3,"b":7.0,"c":18.9},{"x":655,"s":"mSAM","a":0.0,"b":6.8,"c":19.5},{"x":654,"s":"mSAM","a":-1.0,"b":6.5,"c":19.8},{"x":653,"s":"mSAM","a":-2.4,"b":6.2,"c":19.4},{"x":652,"s":"mSAM","a":-1.5,"b":5.9,"c":19.0},{"x":651,"s":"mSAM","a":0.5,"b":6.2,"c":19.3},{"x":650,"s":"mSAM","a":0.8,"b":6.5,"c":19.2},
{"x":750,"s":"pSAM","a":0.1,"b":6.2,"c":17.8},{"x":749,"s":"pSAM","a":0.0,"b":6.1,"c":17.9},{"x":748,"s":"pSAM","a":-0.2,"b":6.2,"c":18.0},{"x":747,"s":"pSAM","a":0.0,"b":6.3,"c":17.9},{"x":746,"s":"pSAM","a":0.1,"b":6.2,"c":18.0},{"x":745,"s":"pSAM","a":-0.1,"b":6.1,"c":18.1},{"x":744,"s":"pSAM","a":0.0,"b":6.2,"c":18.0},{"x":743,"s":"pSAM","a":0.2,"b":6.3,"c":17.9},{"x":742,"s":"pSAM","a":0.1,"b":6.2,"c":18.0},{"x":741,"s":"pSAM","a":-0.1,"b":6.2,"c":18.1},{"x":740,"s":"pSAM","a":-0.3,"b":6.3,"c":18.0},{"x":739,"s":"pSAM","a":-0.2,"b":6.2,"c":17.9},{"x":738,"s":"pSAM","a":0.0,"b":6.1,"c":18.0},{"x":737,"s":"pSAM","a":0.1,"b":6.2,"c":18.1},{"x":736,"s":"pSAM","a":-0.1,"b":6.3,"c":18.0},{"x":735,"s":"pSAM","a":-0.2,"b":6.4,"c":18.0},{"x":734,"s":"pSAM","a":0.0,"b":6.3,"c":18.1},{"x":733,"s":"pSAM","a":0.1,"b":6.2,"c":18.0},{"x":732,"s":"pSAM","a":0.0,"b":6.3,"c":17.9},{"x":731,"s":"pSAM","a":-0.1,"b":6.4,"c":18.0},{"x":730,"s":"pSAM","a":0.0,"b":6.5,"c":18.1},{"x":729,"s":"pSAM","a":0.1,"b":6.6,"c":18.0},{"x":728,"s":"pSAM","a":0.0,"b":6.5,"c":18.0},{"x":727,"s":"pSAM","a":-0.1,"b":6.6,"c":18.1},{"x":726,"s":"pSAM","a":0.0,"b":6.8,"c":18.0},{"x":725,"s":"pSAM","a":0.1,"b":6.7,"c":17.9},{"x":724,"s":"pSAM","a":0.0,"b":6.6,"c":18.0},{"x":723,"s":"pSAM","a":-0.2,"b":6.4,"c":18.1},{"x":722,"s":"pSAM","a":-0.1,"b":6.5,"c":18.0},{"x":721,"s":"pSAM","a":0.0,"b":6.6,"c":18.0},{"x":720,"s":"pSAM","a":0.1,"b":6.7,"c":18.1},{"x":719,"s":"pSAM","a":0.2,"b":6.6,"c":18.2},{"x":718,"s":"pSAM","a":0.0,"b":6.5,"c":18.1},{"x":717,"s":"pSAM","a":-0.1,"b":6.5,"c":18.0},{"x":716,"s":"pSAM","a":0.0,"b":6.6,"c":18.1},{"x":715,"s":"pSAM","a":0.1,"b":6.7,"c":18.0},{"x":714,"s":"pSAM","a":0.2,"b":6.6,"c":18.1},{"x":713,"s":"pSAM","a":0.1,"b":6.5,"c":18.2},{"x":712,"s":"pSAM","a":0.0,"b":6.6,"c":18.1},{"x":711,"s":"pSAM","a":-0.1,"b":6.7,"c":18.0},{"x":710,"s":"pSAM","a":0.0,"b":6.8,"c":18.1},{"x":709,"s":"pSAM","a":0.1,"b":6.7,"c":18.0},{"x":708,"s":"pSAM","a":0.0,"b":6.9,"c":18.1},{"x":707,"s":"pSAM","a":-0.2,"b":7.3,"c":18.5},{"x":706,"s":"pSAM","a":-0.3,"b":7.6,"c":24.3},{"x":705,"s":"pSAM","a":-0.2,"b":7.2,"c":19.0},{"x":704,"s":"pSAM","a":-0.1,"b":6.9,"c":18.2},{"x":703,"s":"pSAM","a":-0.3,"b":6.8,"c":18.0},{"x":702,"s":"pSAM","a":-0.4,"b":6.7,"c":18.1},{"x":701,"s":"pSAM","a":-0.2,"b":6.6,"c":18.2},{"x":700,"s":"pSAM","a":-0.1,"b":6.5,"c":18.1},{"x":699,"s":"pSAM","a":-0.3,"b":6.4,"c":18.2},{"x":698,"s":"pSAM","a":-0.2,"b":6.3,"c":18.1},{"x":697,"s":"pSAM","a":0.0,"b":6.2,"c":18.2},{"x":696,"s":"pSAM","a":0.1,"b":6.2,"c":18.3},{"x":695,"s":"pSAM","a":0.0,"b":6.1,"c":18.2},{"x":694,"s":"pSAM","a":-0.1,"b":6.1,"c":18.3},{"x":693,"s":"pSAM","a":-0.2,"b":6.0,"c":18.5},{"x":692,"s":"pSAM","a":-0.1,"b":6.0,"c":18.8},{"x":691,"s":"pSAM","a":0.0,"b":6.2,"c":19.0},{"x":690,"s":"pSAM","a":0.1,"b":6.6,"c":22.0},{"x":689,"s":"pSAM","a":0.2,"b":7.5,"c":33.0},{"x":688,"s":"pSAM","a":0.3,"b":9.0,"c":40.2},{"x":687,"s":"pSAM","a":0.4,"b":11.5,"c":40.4},{"x":686,"s":"pSAM","a":0.3,"b":14.5,"c":38.5},{"x":685,"s":"pSAM","a":0.5,"b":16.0,"c":35.8},{"x":684,"s":"pSAM","a":1.5,"b":13.0,"c":35.0},{"x":683,"s":"pSAM","a":4.2,"b":10.5,"c":33.0},{"x":682,"s":"pSAM","a":2.0,"b":8.5,"c":31.5},{"x":681,"s":"pSAM","a":0.6,"b":7.4,"c":30.0},{"x":680,"s":"pSAM","a":0.4,"b":7.0,"c":28.0},{"x":679,"s":"pSAM","a":0.3,"b":6.7,"c":25.5},{"x":678,"s":"pSAM","a":0.5,"b":6.5,"c":23.0},{"x":677,"s":"pSAM","a":0.6,"b":6.6,"c":20.5},{"x":676,"s":"pSAM","a":0.4,"b":6.7,"c":19.3},{"x":675,"s":"pSAM","a":0.2,"b":6.5,"c":18.8},{"x":674,"s":"pSAM","a":0.0,"b":6.4,"c":18.7},{"x":673,"s":"pSAM","a":-0.2,"b":6.6,"c":19.0},{"x":672,"s":"pSAM","a":-0.3,"b":6.8,"c":18.8},{"x":671,"s":"pSAM","a":-0.2,"b":6.6,"c":18.6},{"x":670,"s":"pSAM","a":-0.4,"b":6.4,"c":18.9},{"x":669,"s":"pSAM","a":-0.5,"b":6.6,"c":19.2},{"x":668,"s":"pSAM","a":-0.6,"b":6.9,"c":18.9},{"x":667,"s":"pSAM","a":-0.4,"b":7.2,"c":18.6},{"x":666,"s":"pSAM","a":-0.2,"b":7.4,"c":18.7},{"x":665,"s":"pSAM","a":-0.3,"b":7.1,"c":19.0},{"x":664,"s":"pSAM","a":-0.5,"b":6.8,"c":18.8},{"x":663,"s":"pSAM","a":-0.8,"b":7.0,"c":18.6},{"x":662,"s":"pSAM","a":-0.6,"b":7.3,"c":18.5},{"x":661,"s":"pSAM","a":-0.3,"b":7.5,"c":18.7},{"x":660,"s":"pSAM","a":-0.1,"b":7.2,"c":18.9},{"x":659,"s":"pSAM","a":0.0,"b":7.0,"c":19.1},{"x":658,"s":"pSAM","a":-0.2,"b":7.3,"c":19.2},{"x":657,"s":"pSAM","a":-0.5,"b":7.5,"c":19.0},{"x":656,"s":"pSAM","a":-0.8,"b":7.2,"c":18.9},{"x":655,"s":"pSAM","a":-0.6,"b":6.9,"c":19.2},{"x":654,"s":"pSAM","a":-0.3,"b":7.0,"c":19.5},{"x":653,"s":"pSAM","a":-0.5,"b":7.3,"c":19.4},{"x":652,"s":"pSAM","a":-0.7,"b":7.0,"c":19.5},{"x":651,"s":"pSAM","a":-0.6,"b":6.8,"c":19.7},{"x":650,"s":"pSAM","a":-0.5,"b":6.6,"c":19.8}
]
},
"hconcat": [
{
 "width": 209, "height": 418,
 "resolve": {"axis": {"x": "independent", "y": "independent"}},
 "layer": [
  {
   "data": {"name": "A"},
   "transform": [{"fold": ["a", "b", "c"], "as": ["ml", "y"]}],
   "mark": {"type": "line", "strokeWidth": 1.8},
   "encoding": {
    "x": {"field": "x", "type": "quantitative", "scale": {"domain": [1450, 1500], "reverse": true, "nice": false, "zero": false}, "axis": {"orient": "bottom", "values": [1500, 1475, 1450], "title": "Wavenumber (cm⁻¹)", "titlePadding": 13}},
    "y": {"field": "y", "type": "quantitative", "scale": {"domain": [-1, 50], "nice": false, "zero": false}, "axis": {"orient": "left", "values": [0, 10, 20, 30, 40, 50], "title": "Absorbance (x10⁻³)", "titlePadding": 10}},
    "color": {"field": "s", "type": "nominal", "scale": {"domain": ["Au", "mSAM", "pSAM"], "range": ["#141414", "#2b2a8e", "#c8202a"]}, "legend": {"orient": "none", "legendX": 103, "legendY": 50.7}},
    "detail": {"field": "ml"}
   }
  },
  {
   "data": {"values": [{"t": "4 ML", "x": 1490.9, "y": 18.1}, {"t": "2 ML", "x": 1490.9, "y": 9.0}, {"t": "1 ML", "x": 1490.9, "y": 2.0}]},
   "mark": {"type": "text", "fontSize": 19, "align": "center", "baseline": "middle", "color": "#111"},
   "encoding": {
    "x": {"field": "x", "type": "quantitative", "scale": {"domain": [1450, 1500], "reverse": true, "nice": false, "zero": false}, "axis": {"orient": "top", "values": [1500, 1475, 1450], "labels": false, "title": null}},
    "y": {"field": "y", "type": "quantitative", "scale": {"domain": [-1, 50], "nice": false, "zero": false}, "axis": {"orient": "right", "values": [0, 10, 20, 30, 40, 50], "labels": false, "title": null}},
    "text": {"field": "t"}
   }
  },
  {
   "data": {"values": [{"t": "in plane C–C ring stretch", "x": 1497.8, "y": 46.58}]},
   "mark": {"type": "text", "fontSize": 17, "align": "left", "baseline": "middle", "color": "#111"},
   "encoding": {
    "x": {"field": "x", "type": "quantitative", "scale": {"domain": [1450, 1500], "reverse": true, "nice": false, "zero": false}, "axis": null},
    "y": {"field": "y", "type": "quantitative", "scale": {"domain": [-1, 50], "nice": false, "zero": false}, "axis": null},
    "text": {"field": "t"}
   }
  },
  {
   "data": {"values": [{"t": "ν", "x": 1497.8, "y": 48.72}]},
   "mark": {"type": "text", "fontSize": 15, "fontWeight": "bold", "align": "left", "baseline": "middle", "color": "#111"},
   "encoding": {
    "x": {"field": "x", "type": "quantitative", "scale": {"domain": [1450, 1500], "reverse": true, "nice": false, "zero": false}, "axis": null},
    "y": {"field": "y", "type": "quantitative", "scale": {"domain": [-1, 50], "nice": false, "zero": false}, "axis": null},
    "text": {"field": "t"}
   }
  },
  {
   "data": {"values": [{"t": "19", "x": 1495.6, "y": 48.47}]},
   "mark": {"type": "text", "fontSize": 11, "align": "left", "baseline": "middle", "color": "#111"},
   "encoding": {
    "x": {"field": "x", "type": "quantitative", "scale": {"domain": [1450, 1500], "reverse": true, "nice": false, "zero": false}, "axis": null},
    "y": {"field": "y", "type": "quantitative", "scale": {"domain": [-1, 50], "nice": false, "zero": false}, "axis": null},
    "text": {"field": "t"}
   }
  },
  {
   "data": {"values": [{"p": "A"}]},
   "mark": {"type": "rect", "filled": false, "stroke": "black", "strokeWidth": 2, "clip": false},
   "encoding": {
    "x": {"datum": 1515.8, "type": "quantitative", "scale": {"domain": [1450, 1500], "reverse": true, "nice": false, "zero": false}, "axis": null},
    "x2": {"datum": 1508.85},
    "y": {"datum": 52.2, "type": "quantitative", "scale": {"domain": [-1, 50], "nice": false, "zero": false}, "axis": null},
    "y2": {"datum": 47.56}
   }
  },
  {
   "data": {"values": [{"p": "A"}]},
   "mark": {"type": "text", "fontSize": 31, "align": "center", "baseline": "middle", "color": "#111"},
   "encoding": {
    "x": {"datum": 1512.3, "type": "quantitative", "scale": {"domain": [1450, 1500], "reverse": true, "nice": false, "zero": false}, "axis": null},
    "y": {"datum": 49.85, "type": "quantitative", "scale": {"domain": [-1, 50], "nice": false, "zero": false}, "axis": null},
    "text": {"field": "p"}
   }
  }
 ]
},
{
 "width": 209, "height": 418,
 "resolve": {"axis": {"x": "independent", "y": "independent"}},
 "layer": [
  {
   "data": {"name": "B"},
   "transform": [{"fold": ["a", "b", "c"], "as": ["ml", "y"]}],
   "mark": {"type": "line", "strokeWidth": 1.8},
   "encoding": {
    "x": {"field": "x", "type": "quantitative", "scale": {"domain": [1000, 1075], "reverse": true, "nice": false, "zero": false}, "axis": {"orient": "bottom", "values": [1075, 1050, 1025, 1000], "title": "Wavenumber (cm⁻¹)", "titlePadding": 13}},
    "y": {"field": "y", "type": "quantitative", "scale": {"domain": [-1, 25], "nice": false, "zero": false}, "axis": {"orient": "left", "values": [0, 5, 10, 15, 20, 25], "title": "Absorbance (x10⁻³)", "titlePadding": 10}},
    "color": {"field": "s", "type": "nominal", "scale": {"domain": ["Au", "mSAM", "pSAM"], "range": ["#141414", "#2b2a8e", "#c8202a"]}, "legend": {"orient": "none", "legendX": 13, "legendY": 49.7}},
    "detail": {"field": "ml"}
   }
  },
  {
   "data": {"values": [{"t": "4 ML", "x": 1059.0, "y": 9.62}, {"t": "2 ML", "x": 1059.0, "y": 3.61}, {"t": "1 ML", "x": 1059.0, "y": 1.06}]},
   "mark": {"type": "text", "fontSize": 19, "align": "center", "baseline": "middle", "color": "#111"},
   "encoding": {
    "x": {"field": "x", "type": "quantitative", "scale": {"domain": [1000, 1075], "reverse": true, "nice": false, "zero": false}, "axis": {"orient": "top", "values": [1075, 1050, 1025, 1000], "labels": false, "title": null}},
    "y": {"field": "y", "type": "quantitative", "scale": {"domain": [-1, 25], "nice": false, "zero": false}, "axis": {"orient": "right", "values": [0, 5, 10, 15, 20, 25], "labels": false, "title": null}},
    "text": {"field": "t"}
   }
  },
  {
   "data": {"values": [{"t": "in plane C–H bend", "x": 1071.3, "y": 23.26}]},
   "mark": {"type": "text", "fontSize": 17, "align": "left", "baseline": "middle", "color": "#111"},
   "encoding": {
    "x": {"field": "x", "type": "quantitative", "scale": {"domain": [1000, 1075], "reverse": true, "nice": false, "zero": false}, "axis": null},
    "y": {"field": "y", "type": "quantitative", "scale": {"domain": [-1, 25], "nice": false, "zero": false}, "axis": null},
    "text": {"field": "t"}
   }
  },
  {
   "data": {"values": [{"t": "ν", "x": 1071.3, "y": 24.35}]},
   "mark": {"type": "text", "fontSize": 15, "fontWeight": "bold", "align": "left", "baseline": "middle", "color": "#111"},
   "encoding": {
    "x": {"field": "x", "type": "quantitative", "scale": {"domain": [1000, 1075], "reverse": true, "nice": false, "zero": false}, "axis": null},
    "y": {"field": "y", "type": "quantitative", "scale": {"domain": [-1, 25], "nice": false, "zero": false}, "axis": null},
    "text": {"field": "t"}
   }
  },
  {
   "data": {"values": [{"t": "18", "x": 1067.9, "y": 24.22}]},
   "mark": {"type": "text", "fontSize": 11, "align": "left", "baseline": "middle", "color": "#111"},
   "encoding": {
    "x": {"field": "x", "type": "quantitative", "scale": {"domain": [1000, 1075], "reverse": true, "nice": false, "zero": false}, "axis": null},
    "y": {"field": "y", "type": "quantitative", "scale": {"domain": [-1, 25], "nice": false, "zero": false}, "axis": null},
    "text": {"field": "t"}
   }
  },
  {
   "data": {"values": [{"p": "B"}]},
   "mark": {"type": "rect", "filled": false, "stroke": "black", "strokeWidth": 2, "clip": false},
   "encoding": {
    "x": {"datum": 1098.8, "type": "quantitative", "scale": {"domain": [1000, 1075], "reverse": true, "nice": false, "zero": false}, "axis": null},
    "x2": {"datum": 1088.0},
    "y": {"datum": 26.1, "type": "quantitative", "scale": {"domain": [-1, 25], "nice": false, "zero": false}, "axis": null},
    "y2": {"datum": 23.76}
   }
  },
  {
   "data": {"values": [{"p": "B"}]},
   "mark": {"type": "text", "fontSize": 31, "align": "center", "baseline": "middle", "color": "#111"},
   "encoding": {
    "x": {"datum": 1093.4, "type": "quantitative", "scale": {"domain": [1000, 1075], "reverse": true, "nice": false, "zero": false}, "axis": null},
    "y": {"datum": 24.93, "type": "quantitative", "scale": {"domain": [-1, 25], "nice": false, "zero": false}, "axis": null},
    "text": {"field": "p"}
   }
  }
 ]
},
{
 "width": 209, "height": 418,
 "resolve": {"axis": {"x": "independent", "y": "independent"}},
 "layer": [
  {
   "data": {"name": "C"},
   "transform": [{"fold": ["a", "b", "c"], "as": ["ml", "y"]}],
   "mark": {"type": "line", "strokeWidth": 1.8},
   "encoding": {
    "x": {"field": "x", "type": "quantitative", "scale": {"domain": [650, 750], "reverse": true, "nice": false, "zero": false}, "axis": {"orient": "bottom", "values": [750, 725, 700, 675, 650], "title": "Wavenumber (cm⁻¹)", "titlePadding": 13}},
    "y": {"field": "y", "type": "quantitative", "scale": {"domain": [-3, 60], "nice": false, "zero": false}, "axis": {"orient": "left", "values": [0, 10, 20, 30, 40, 50, 60], "title": "Absorbance (x10⁻³)", "titlePadding": 10}},
    "color": {"field": "s", "type": "nominal", "scale": {"domain": ["Au", "mSAM", "pSAM"], "range": ["#141414", "#2b2a8e", "#c8202a"]}, "legend": {"orient": "none", "legendX": 12, "legendY": 49.7}},
    "detail": {"field": "ml"}
   }
  },
  {
   "data": {"values": [{"t": "4 ML", "x": 725.6, "y": 25.74}, {"t": "2 ML", "x": 727.9, "y": 13.68}, {"t": "1 ML", "x": 727.1, "y": 3.73}]},
   "mark": {"type": "text", "fontSize": 19, "align": "center", "baseline": "middle", "color": "#111"},
   "encoding": {
    "x": {"field": "x", "type": "quantitative", "scale": {"domain": [650, 750], "reverse": true, "nice": false, "zero": false}, "axis": {"orient": "top", "values": [750, 725, 700, 675, 650], "labels": false, "title": null}},
    "y": {"field": "y", "type": "quantitative", "scale": {"domain": [-3, 60], "nice": false, "zero": false}, "axis": {"orient": "right", "values": [0, 10, 20, 30, 40, 50, 60], "labels": false, "title": null}},
    "text": {"field": "t"}
   }
  },
  {
   "data": {"values": [{"t": "out of plane C–H bend", "x": 744.86, "y": 55.78}]},
   "mark": {"type": "text", "fontSize": 17, "align": "left", "baseline": "middle", "color": "#111"},
   "encoding": {
    "x": {"field": "x", "type": "quantitative", "scale": {"domain": [650, 750], "reverse": true, "nice": false, "zero": false}, "axis": null},
    "y": {"field": "y", "type": "quantitative", "scale": {"domain": [-3, 60], "nice": false, "zero": false}, "axis": null},
    "text": {"field": "t"}
   }
  },
  {
   "data": {"values": [{"t": "ν", "x": 744.86, "y": 58.42}]},
   "mark": {"type": "text", "fontSize": 15, "fontWeight": "bold", "align": "left", "baseline": "middle", "color": "#111"},
   "encoding": {
    "x": {"field": "x", "type": "quantitative", "scale": {"domain": [650, 750], "reverse": true, "nice": false, "zero": false}, "axis": null},
    "y": {"field": "y", "type": "quantitative", "scale": {"domain": [-3, 60], "nice": false, "zero": false}, "axis": null},
    "text": {"field": "t"}
   }
  },
  {
   "data": {"values": [{"t": "11", "x": 740.6, "y": 58.12}]},
   "mark": {"type": "text", "fontSize": 11, "align": "left", "baseline": "middle", "color": "#111"},
   "encoding": {
    "x": {"field": "x", "type": "quantitative", "scale": {"domain": [650, 750], "reverse": true, "nice": false, "zero": false}, "axis": null},
    "y": {"field": "y", "type": "quantitative", "scale": {"domain": [-3, 60], "nice": false, "zero": false}, "axis": null},
    "text": {"field": "t"}
   }
  },
  {
   "data": {"values": [{"p": "C"}]},
   "mark": {"type": "rect", "filled": false, "stroke": "black", "strokeWidth": 2, "clip": false},
   "encoding": {
    "x": {"datum": 781.7, "type": "quantitative", "scale": {"domain": [650, 750], "reverse": true, "nice": false, "zero": false}, "axis": null},
    "x2": {"datum": 767.3},
    "y": {"datum": 62.67, "type": "quantitative", "scale": {"domain": [-3, 60], "nice": false, "zero": false}, "axis": null},
    "y2": {"datum": 56.99}
   }
  },
  {
   "data": {"values": [{"p": "C"}]},
   "mark": {"type": "text", "fontSize": 31, "align": "center", "baseline": "middle", "color": "#111"},
   "encoding": {
    "x": {"datum": 774.5, "type": "quantitative", "scale": {"domain": [650, 750], "reverse": true, "nice": false, "zero": false}, "axis": null},
    "y": {"datum": 59.83, "type": "quantitative", "scale": {"domain": [-3, 60], "nice": false, "zero": false}, "axis": null},
    "text": {"field": "p"}
   }
  }
 ]
}
]
}
